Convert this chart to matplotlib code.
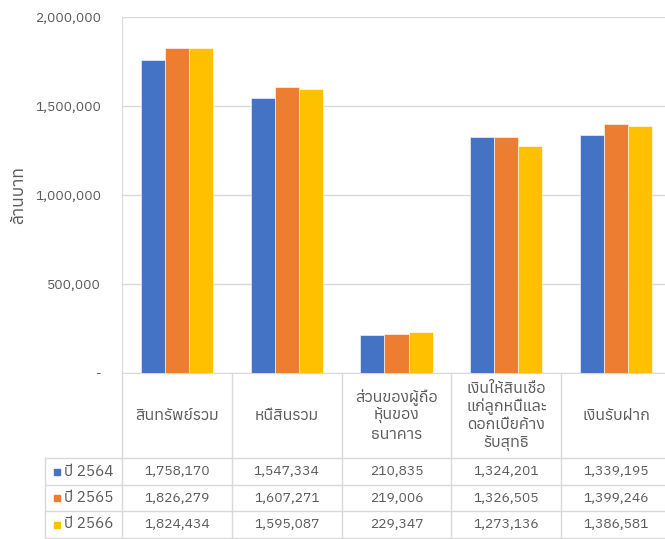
import matplotlib
matplotlib.use('Agg')
import matplotlib.pyplot as plt
from matplotlib import font_manager
from matplotlib.ft2font import FT2Font

# pick any installed font that has Thai glyphs
thai_fonts = []
for f in font_manager.fontManager.ttflist:
    try:
        if ord('ส') in FT2Font(f.fname).get_charmap():
            thai_fonts.append(f.name)
    except Exception:
        pass
thai_fonts = sorted(set(thai_fonts))
plt.rcParams['font.family'] = thai_fonts[:1] + ['DejaVu Sans']

categories = ['สินทรัพย์รวม', 'หนี้สินรวม', 'ส่วนของผู้ถือ\nหุ้นของ\nธนาคาร',
              'เงินให้สินเชื่อ\nแก่ลูกหนี้และ\nดอกเบี้ยค้าง\nรับสุทธิ', 'เงินรับฝาก']
years = ['ปี 2564', 'ปี 2565', 'ปี 2566']
v2564 = [1758170, 1547334, 210835, 1324201, 1339195]
v2565 = [1826279, 1607271, 219006, 1326505, 1399246]
v2566 = [1824434, 1595087, 229347, 1273136, 1386581]
series = [v2564, v2565, v2566]
colors = ['#4472C4', '#ED7D31', '#FFC000']
yticks = [0, 500000, 1000000, 1500000, 2000000]

W, H = 665, 539
txt = '#595959'
grid = '#D9D9D9'
fig = plt.figure(figsize=(W / 100, H / 100), dpi=100)

# main plot area
cw = 109.8  # pixels per category
ax = fig.add_axes([122 / W, (H - 373) / H, 5 * cw / W, (373 - 17) / H])
x = list(range(len(categories)))
w = 0.219
for i, (vals, c) in enumerate(zip(series, colors)):
    ax.bar([p + (i - 1) * w for p in x], vals, width=w, color=c,
           edgecolor='white', linewidth=0.4, zorder=3)
ax.set_xlim(-0.5, 4.5)
ax.set_ylim(0, 2000000)
ax.set_yticks(yticks)
ax.set_yticklabels(['-' if t == 0 else f'{t:,}' for t in yticks], color=txt, fontsize=10)
ax.set_xticks([])
ax.tick_params(axis='y', length=0, pad=15)
ax.grid(axis='y', color=grid, linewidth=1, zorder=0)
for s in ['top', 'right']:
    ax.spines[s].set_visible(False)
for s in ['left', 'bottom']:
    ax.spines[s].set_color(grid)
fig.text(18 / W, 1 - 195 / H, 'ล้านบาท', rotation=90, ha='center', va='center',
         color=txt, fontsize=12.5)

# data table under the chart
xl = -0.5 - (122 - 45) / cw
tb = fig.add_axes([45 / W, 0, (122 - 45 + 5 * cw) / W, (H - 373) / H])
tb.set_xlim(xl, 4.5)
tb.set_ylim(H, 373)
tb.axis('off')
rows_y = [458, 485, 511, 538]
for y in rows_y:
    tb.plot([xl, 4.5], [y, y], color=grid, lw=1, clip_on=False)
for k in range(6):
    tb.plot([k - 0.5, k - 0.5], [373, 538], color=grid, lw=1, clip_on=False)
tb.plot([xl, xl], [458, 538], color=grid, lw=1, clip_on=False)

for i, cat in enumerate(categories):
    tb.text(i, 415.5, cat, ha='center', va='center', multialignment='center',
            color=txt, fontsize=11.5, linespacing=1.13)
for r, (vals, c, yr) in enumerate(zip(series, colors, years)):
    yc = (rows_y[r] + rows_y[r + 1]) / 2
    for i, v in enumerate(vals):
        tb.text(i, yc, f'{v:,}', ha='center', va='center', color=txt, fontsize=10)
    tb.plot([xl + (56.5 - 45) / cw], [yc], marker='s', ms=5, color=c, clip_on=False)
    tb.text(xl + (64 - 45) / cw, yc, yr, ha='left', va='center', color=txt, fontsize=11)

fig.savefig('out.png', dpi=100)
